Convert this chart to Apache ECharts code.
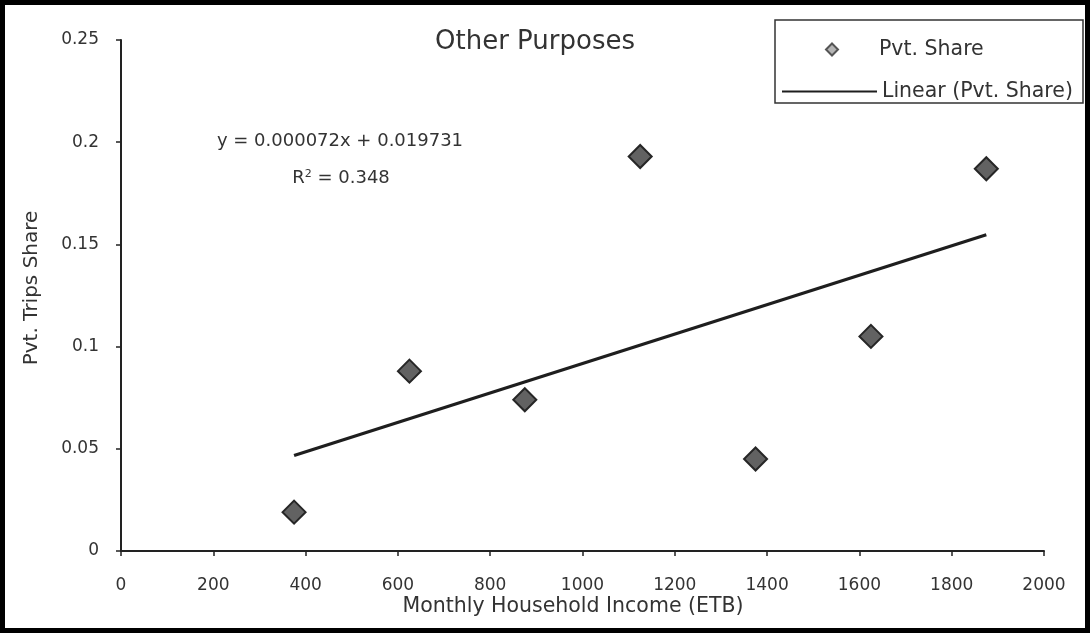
<!DOCTYPE html>
<html>
<head>
<meta charset="utf-8">
<script src="https://cdn.jsdelivr.net/npm/echarts@6/dist/echarts.min.js"></script>
<style>
html,body{margin:0;padding:0;background:#fff;}
#chart{width:1090px;height:633px;}
</style>
</head>
<body>
<div id="chart"></div>
<script>
// Data
const income = [375, 625, 875, 1125, 1375, 1625, 1875];
const pvtShare = [0.019, 0.088, 0.074, 0.193, 0.045, 0.105, 0.187];
const trendSlope = 0.000072;
const trendIntercept = 0.019731;
const trendRange = [375, 1875];
const rSquared = '0.348';
const xTicks = { min: 0, max: 2000, interval: 200 };
const yTicks = { min: 0, max: 0.25, interval: 0.05 };

const scatterData = income.map((x, i) => [x, pvtShare[i]]);
const trendData = trendRange.map(x => [x, trendSlope * x + trendIntercept]);

const FONT = 'DejaVu Sans';
const TXT = '#333';

const chart = echarts.init(document.getElementById('chart'), null, { renderer: 'canvas' });
chart.setOption({
  backgroundColor: '#fff',
  animation: false,
  grid: { left: 121, right: 46, top: 40, bottom: 82, containLabel: false },
  legend: [
    {
      orient: 'vertical', left: 820, top: 34,
      itemWidth: 12, itemHeight: 12,
      textStyle: { fontFamily: FONT, fontSize: 20.5, color: TXT, lineHeight: 20, padding: [0, 0, 0, 36] },
      data: [{ name: 'Pvt. Share', icon: 'diamond',
        itemStyle: { color: '#b5b5b5', borderColor: '#555', borderWidth: 2 } }]
    },
    {
      orient: 'vertical', left: 776, top: 76,
      itemWidth: 95, itemHeight: 12,
      textStyle: { fontFamily: FONT, fontSize: 20.5, color: TXT, lineHeight: 20 },
      data: [{ name: 'Linear (Pvt. Share)', itemStyle: { opacity: 0 } }]
    }
  ],
  xAxis: {
    type: 'value', min: xTicks.min, max: xTicks.max, interval: xTicks.interval,
    axisLine: { show: true, lineStyle: { color: '#222', width: 2 } },
    axisTick: { show: true, length: 5, lineStyle: { color: '#222', width: 1.5 } },
    axisLabel: { fontFamily: FONT, fontSize: 17, color: TXT, margin: 26, formatter: v => String(v) },
    splitLine: { show: false }
  },
  yAxis: {
    type: 'value', min: yTicks.min, max: yTicks.max, interval: yTicks.interval,
    axisLine: { show: true, lineStyle: { color: '#222', width: 2 } },
    axisTick: { show: true, length: 5, lineStyle: { color: '#222', width: 1.5 } },
    axisLabel: { fontFamily: FONT, fontSize: 17, color: TXT, margin: 22,
      formatter: v => String(parseFloat(v.toFixed(2))) },
    splitLine: { show: false }
  },
  series: [
    {
      name: 'Pvt. Share', type: 'scatter', data: scatterData,
      symbol: 'diamond', symbolSize: 23,
      itemStyle: { color: '#626262', borderColor: '#262626', borderWidth: 2, opacity: 1 },
      z: 3
    },
    {
      name: 'Linear (Pvt. Share)', type: 'line', data: trendData,
      symbol: 'none', showSymbol: false,
      lineStyle: { color: '#1e1e1e', width: 3.2 },
      itemStyle: { color: '#1e1e1e' },
      z: 2
    }
  ],
  graphic: [
    { type: 'rect', shape: { x: 2.5, y: 2.5, width: 1085, height: 628 },
      style: { fill: 'none', stroke: '#000', lineWidth: 5 }, silent: true, z: 100 },
    { type: 'rect', shape: { x: 775, y: 20, width: 308, height: 83 },
      style: { fill: 'none', stroke: '#333', lineWidth: 1.5 }, silent: true, z: 100 },
    { type: 'text', x: 535, y: 42,
      style: { text: 'Other Purposes', fontFamily: FONT, fontSize: 26, fill: TXT,
        textAlign: 'center', textVerticalAlign: 'middle' }, z: 100 },
    { type: 'text', x: 573, y: 607,
      style: { text: 'Monthly Household Income (ETB)', fontFamily: FONT, fontSize: 20.5, fill: TXT,
        textAlign: 'center', textVerticalAlign: 'middle' }, z: 100 },
    { type: 'text', x: 32, y: 288, rotation: Math.PI / 2,
      style: { text: 'Pvt. Trips Share', fontFamily: FONT, fontSize: 20, fill: TXT,
        textAlign: 'center', textVerticalAlign: 'middle' }, z: 100 },
    { type: 'text', x: 340, y: 141,
      style: { text: 'y = 0.000072x + 0.019731', fontFamily: FONT, fontSize: 18, fill: TXT,
        textAlign: 'center', textVerticalAlign: 'middle' }, z: 100 },
    { type: 'text', x: 341, y: 178,
      style: { text: '{a|R}{s|2}{a| = ' + rSquared + '}', textAlign: 'center', textVerticalAlign: 'middle',
        rich: {
          a: { fontFamily: FONT, fontSize: 18, fill: TXT, color: TXT },
          s: { fontFamily: FONT, fontSize: 11, fill: TXT, color: TXT, verticalAlign: 'top', padding: [0, 0, 8, 0] }
        } }, z: 100 }
  ]
});
</script>
</body>
</html>
